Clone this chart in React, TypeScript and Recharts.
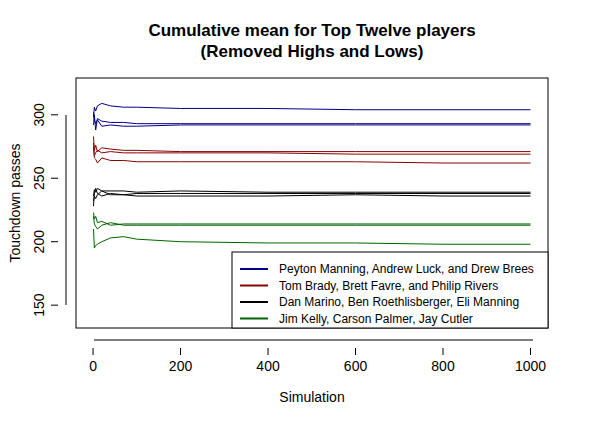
import { LineChart, Line, XAxis, YAxis } from "recharts";

const sims = [1, 3, 6, 10, 20, 40, 70, 100, 200, 400, 600, 800, 1000];

const blue1 = [298, 306, 303, 307, 309, 307, 306, 306, 305, 305, 304, 304, 304];
const blue2 = [292, 300, 288, 297, 295, 294, 294, 293, 293, 293, 293, 293, 293];
const blue3 = [302, 296, 293, 296, 291, 292, 291, 291, 292, 292, 292, 292, 292];
const red1 = [283, 272, 276, 271, 274, 273, 272, 272, 271, 271, 271, 271, 271];
const red2 = [278, 268, 270, 272, 270, 271, 270, 270, 270, 270, 269, 269, 269];
const red3 = [275, 266, 265, 262, 266, 264, 264, 263, 263, 263, 263, 262, 262];
const black1 = [236, 241, 239, 242, 240, 240, 240, 239, 240, 239, 239, 239, 239];
const black2 = [228, 238, 242, 238, 236, 238, 237, 238, 238, 238, 238, 238, 238];
const black3 = [232, 236, 234, 237, 240, 237, 237, 236, 236, 236, 237, 236, 236];
const green1 = [223, 218, 220, 215, 216, 213, 214, 214, 214, 214, 214, 214, 214];
const green2 = [220, 214, 212, 210, 213, 215, 213, 213, 213, 213, 213, 213, 213];
const green3 = [210, 195, 197, 198, 200, 203, 204, 202, 200, 199, 199, 198, 198];

const series = [
  { key: "b1", vals: blue1, color: "#00008B" },
  { key: "b2", vals: blue2, color: "#00008B" },
  { key: "b3", vals: blue3, color: "#00008B" },
  { key: "r1", vals: red1, color: "#8B0000" },
  { key: "r2", vals: red2, color: "#8B0000" },
  { key: "r3", vals: red3, color: "#8B0000" },
  { key: "k1", vals: black1, color: "#000000" },
  { key: "k2", vals: black2, color: "#000000" },
  { key: "k3", vals: black3, color: "#000000" },
  { key: "g1", vals: green1, color: "#006400" },
  { key: "g2", vals: green2, color: "#006400" },
  { key: "g3", vals: green3, color: "#006400" },
];

const legendItems = [
  { label: "Peyton Manning, Andrew Luck, and Drew Brees", color: "#00008B" },
  { label: "Tom Brady, Brett Favre, and Philip Rivers", color: "#8B0000" },
  { label: "Dan Marino, Ben Roethlisberger, Eli Manning", color: "#000000" },
  { label: "Jim Kelly, Carson Palmer, Jay Cutler", color: "#006400" },
];

const xTicks = [0, 200, 400, 600, 800, 1000];
const yTicks = [150, 200, 250, 300];

const font = "Arial, 'Liberation Sans', sans-serif";

const XTick = ({ x, y, payload }: any) => (
  <g>
    <line x1={x} x2={x} y1={y + 12} y2={y + 19} stroke="#000" />
    <text x={x} y={y + 35} textAnchor="middle" fontSize={14} fontFamily={font} fill="#000">
      {payload.value}
    </text>
  </g>
);

const YTick = ({ x, y, payload }: any) => (
  <g>
    <line x1={x - 10} x2={x - 17} y1={y} y2={y} stroke="#000" />
    <text
      x={x - 24}
      y={y}
      textAnchor="middle"
      fontSize={14}
      fontFamily={font}
      fill="#000"
      transform={`rotate(-90 ${x - 24} ${y})`}
    >
      {payload.value}
    </text>
  </g>
);

export default function App() {
  const data = sims.map((s, i) => {
    const row: any = { sim: s };
    series.forEach((ser) => (row[ser.key] = ser.vals[i]));
    return row;
  });
  return (
    <div style={{ position: "absolute", left: 0, top: 0, width: 590, height: 427, background: "#fff", fontFamily: font }}>
      <LineChart width={590} height={427} data={data} margin={{ top: 78, right: 42, left: 16, bottom: 59 }}>
        <XAxis
          dataKey="sim"
          type="number"
          domain={[-39, 1040]}
          ticks={xTicks}
          axisLine={false}
          tickLine={false}
          tick={<XTick />}
          height={40}
        />
        <YAxis
          type="number"
          domain={[132, 329]}
          ticks={yTicks}
          axisLine={false}
          tickLine={false}
          tick={<YTick />}
          width={60}
        />
        {series.map((s) => (
          <Line
            key={s.key}
            dataKey={s.key}
            stroke={s.color}
            strokeWidth={1}
            dot={false}
            type="linear"
            isAnimationActive={false}
          />
        ))}
      </LineChart>
      <svg width={590} height={427} style={{ position: "absolute", left: 0, top: 0, pointerEvents: "none" }}>
        <rect x={76} y={78} width={472} height={250} fill="none" stroke="#000" />
        <line x1={94} x2={533} y1={340} y2={340} stroke="#000" />
        <line x1={66} x2={66} y1={115} y2={305} stroke="#000" />
        <text x={312} y={36} textAnchor="middle" fontSize={17} fontWeight="bold" fontFamily={font}>
          Cumulative mean for Top Twelve players
        </text>
        <text x={312} y={57} textAnchor="middle" fontSize={17} fontWeight="bold" fontFamily={font}>
          (Removed Highs and Lows)
        </text>
        <text x={312} y={402} textAnchor="middle" fontSize={14} fontFamily={font}>
          Simulation
        </text>
        <text x={20} y={203} textAnchor="middle" fontSize={14} fontFamily={font} transform="rotate(-90 20 203)">
          Touchdown passes
        </text>
        <rect x={232} y={252} width={316} height={76} fill="#fff" stroke="#000" />
        {legendItems.map((it, i) => (
          <g key={i}>
            <line x1={240} x2={268} y1={269 + i * 16.5} y2={269 + i * 16.5} stroke={it.color} strokeWidth={2} />
            <text x={279} y={273 + i * 16.5} fontSize={12} fontFamily={font}>
              {it.label}
            </text>
          </g>
        ))}
      </svg>
    </div>
  );
}
